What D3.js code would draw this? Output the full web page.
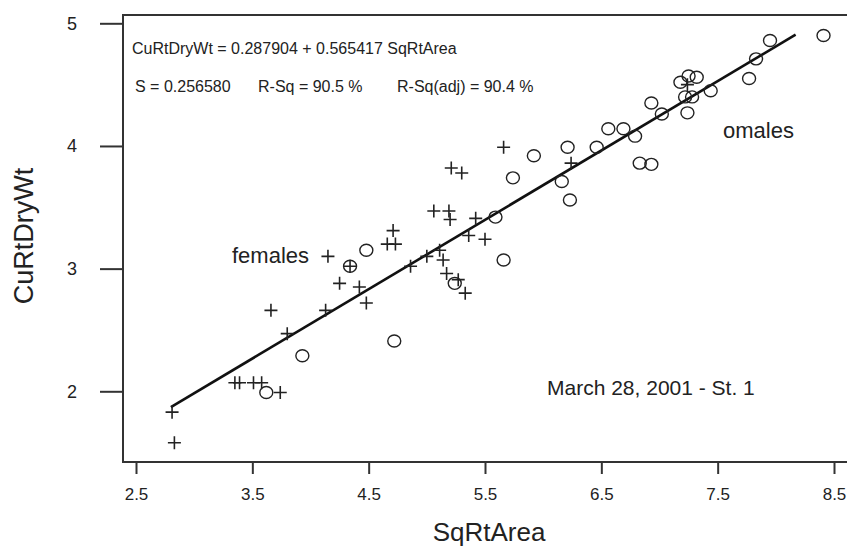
<!DOCTYPE html>
<html>
<head>
<meta charset="utf-8">
<script src="https://cdn.jsdelivr.net/npm/d3@7"></script>
<style>
  body { margin: 0; background: #fff; }
  svg text { font-family: "Liberation Sans", Arial, sans-serif; fill: #222; }
</style>
</head>
<body>
<div id="chart"></div>
<script>
// females (+) and males (O), SqRtArea vs CuRtDryWt
var femaleX = [2.83, 2.81, 3.35, 3.39, 3.51, 3.58, 3.74, 3.66, 3.80, 4.13, 4.15, 4.34,
               4.25, 4.42, 4.48, 4.71, 4.66, 4.73, 4.86, 5.00, 5.11, 5.14, 5.17, 5.27,
               5.33, 5.06, 5.19, 5.20, 5.36, 5.42, 5.50, 5.21, 5.30, 5.66, 6.24, 7.24];
var femaleY = [1.58, 1.83, 2.07, 2.07, 2.07, 2.07, 1.99, 2.66, 2.47, 2.66, 3.10, 3.02,
               2.88, 2.85, 2.72, 3.31, 3.20, 3.20, 3.02, 3.10, 3.15, 3.07, 2.96, 2.91,
               2.80, 3.47, 3.47, 3.40, 3.27, 3.41, 3.24, 3.82, 3.78, 3.99, 3.86, 4.50];
var maleX = [3.62, 3.93, 4.34, 4.48, 4.72, 5.24, 5.59, 5.66, 5.74, 5.92, 6.16, 6.21,
             6.23, 6.46, 6.56, 6.69, 6.79, 6.83, 6.93, 6.93, 7.02, 7.18, 7.25, 7.32,
             7.22, 7.28, 7.24, 7.44, 7.77, 7.83, 7.95, 8.41];
var maleY = [1.99, 2.29, 3.02, 3.15, 2.41, 2.88, 3.42, 3.07, 3.74, 3.92, 3.71, 3.99,
             3.56, 3.99, 4.14, 4.14, 4.08, 3.86, 3.85, 4.35, 4.26, 4.52, 4.57, 4.56,
             4.40, 4.40, 4.27, 4.45, 4.55, 4.71, 4.86, 4.90];

var intercept = 0.287904;
var slope = 0.565417;
var fitRange = [2.80, 8.17];

var xTicks = [2.5, 3.5, 4.5, 5.5, 6.5, 7.5, 8.5];
var yTicks = [2, 3, 4, 5];

var W = 847, H = 550;
var svg = d3.select("#chart").append("svg")
  .attr("width", W).attr("height", H);

// scales: 2.5 -> 136px, 8.5 -> 834px ; 5 -> 23px, 2 -> 391px
var x = d3.scaleLinear().domain([2.5, 8.5]).range([136, 834]);
var y = d3.scaleLinear().domain([2, 5]).range([391.3, 23.3]);

var frame = { left: 123, top: 15, right: 852, bottom: 462 };

// axes
var xAxis = d3.axisBottom(x).tickValues(xTicks).tickFormat(d3.format(".1f"))
  .tickSize(12).tickPadding(14).tickSizeOuter(0);
var gx = svg.append("g").attr("transform", "translate(0," + frame.bottom + ")").call(xAxis);
gx.select(".domain").remove();
gx.selectAll("line").attr("stroke", "#333").attr("stroke-width", 2);
gx.selectAll("text").style("font-size", "17px").attr("fill", "#222");

var yAxis = d3.axisLeft(y).tickValues(yTicks).tickFormat(d3.format("d"))
  .tickSize(23).tickPadding(23).tickSizeOuter(0);
var gy = svg.append("g").attr("transform", "translate(" + frame.left + ",0)").call(yAxis);
gy.select(".domain").remove();
gy.selectAll("line").attr("stroke", "#333").attr("stroke-width", 2);
gy.selectAll("text").style("font-size", "18px").attr("fill", "#222");

// frame
svg.append("rect")
  .attr("x", frame.left).attr("y", frame.top)
  .attr("width", frame.right - frame.left).attr("height", frame.bottom - frame.top)
  .attr("fill", "none").attr("stroke", "#333").attr("stroke-width", 2);

// axis titles
svg.append("text").attr("x", 489).attr("y", 541)
  .attr("text-anchor", "middle").style("font-size", "26px").text("SqRtArea");
svg.append("text").attr("transform", "translate(33,236) rotate(-90)")
  .attr("text-anchor", "middle").style("font-size", "27px").text("CuRtDryWt");

// fitted line
svg.append("line")
  .attr("x1", x(fitRange[0])).attr("y1", y(intercept + slope * fitRange[0]))
  .attr("x2", x(fitRange[1])).attr("y2", y(intercept + slope * fitRange[1]))
  .attr("stroke", "#111").attr("stroke-width", 2.6);

// males: circles
var males = maleX.map(function(d, i) { return { x: d, y: maleY[i] }; });
svg.selectAll(".male")
  .data(males)
  .enter().append("ellipse")
  .attr("class", "male")
  .attr("cx", function(d) { return x(d.x); })
  .attr("cy", function(d) { return y(d.y); })
  .attr("rx", 6.5).attr("ry", 6)
  .attr("fill", "none").attr("stroke", "#222").attr("stroke-width", 1.4);

// females: plus signs
var females = femaleX.map(function(d, i) { return { x: d, y: femaleY[i] }; });
svg.selectAll(".female")
  .data(females)
  .enter().append("path")
  .attr("class", "female")
  .attr("d", function(d) {
    var cx = x(d.x), cy = y(d.y);
    return "M" + (cx - 6.5) + "," + cy + "H" + (cx + 6.5) +
           "M" + cx + "," + (cy - 6.5) + "V" + (cy + 6.5);
  })
  .attr("fill", "none").attr("stroke", "#222").attr("stroke-width", 1.6);

// regression text
svg.append("text").attr("x", 132).attr("y", 54).style("font-size", "16px")
  .text("CuRtDryWt = 0.287904 + 0.565417 SqRtArea");
svg.append("text").attr("x", 135).attr("y", 92).style("font-size", "16px")
  .text("S = 0.256580");
svg.append("text").attr("x", 258).attr("y", 92).style("font-size", "16px")
  .text("R-Sq = 90.5 %");
svg.append("text").attr("x", 397).attr("y", 92).style("font-size", "16px")
  .text("R-Sq(adj) = 90.4 %");

// labels in the plot
svg.append("text").attr("x", 232).attr("y", 263).style("font-size", "22px").text("females");
svg.append("text").attr("x", 723).attr("y", 138).style("font-size", "22px").text("omales");
svg.append("text").attr("x", 547).attr("y", 395).style("font-size", "21px").text("March 28, 2001 - St. 1");
</script>
</body>
</html>
